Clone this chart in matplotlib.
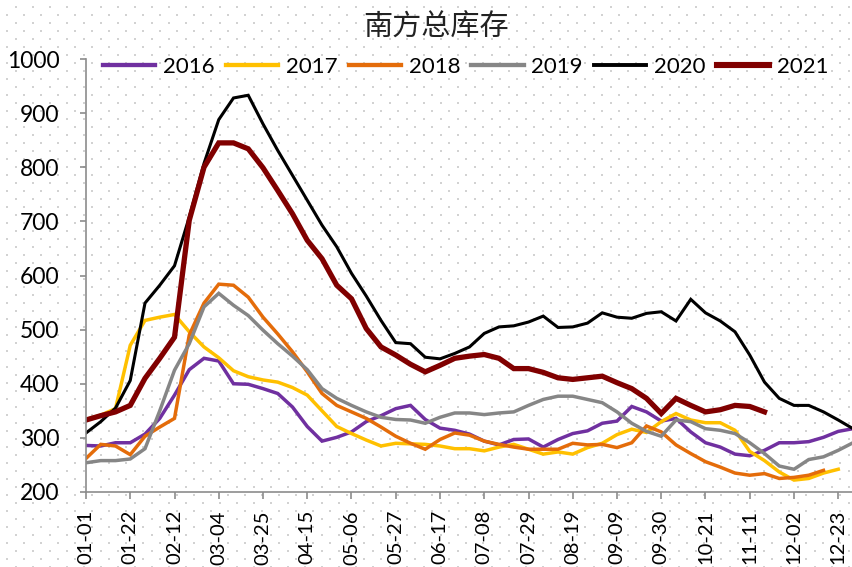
import numpy as np
import matplotlib
matplotlib.use("Agg")
import matplotlib.pyplot as plt

plt.rcParams['font.family'] = ['Lato', 'Noto Sans CJK SC', 'DejaVu Sans']

title = "南方总库存"

# weekly inventory, week 0 = 01-01
inv_2016 = [286, 285, 291, 291, 307, 336, 379, 426, 447, 442,
            400, 399, 391, 382, 357, 321, 294, 301, 311, 330,
            341, 354, 360, 334, 318, 314, 307, 294, 287, 297,
            298, 283, 297, 308, 313, 327, 331, 358, 348, 331,
            336, 311, 291, 283, 270, 267, 277, 291, 291, 293,
            301, 312, 317]
inv_2017 = [334, 342, 354, 471, 517, 523, 528, 496, 468, 448,
            424, 413, 407, 403, 393, 379, 350, 321, 308, 296,
            285, 290, 289, 288, 285, 280, 280, 276, 283, 288,
            279, 270, 274, 270, 282, 290, 306, 316, 310, 330,
            345, 333, 328, 328, 314, 275, 258, 237, 222, 225,
            235, 242]
inv_2018 = [262, 288, 285, 269, 303, 320, 336, 490, 549, 584,
            582, 560, 523, 492, 459, 422, 382, 360, 348, 336,
            320, 303, 290, 279, 297, 309, 305, 294, 288, 283,
            279, 279, 279, 290, 287, 288, 282, 291, 322, 311,
            287, 271, 256, 246, 235, 231, 234, 225, 227, 231,
            240]
inv_2019 = [254, 258, 258, 261, 280, 350, 425, 474, 542, 567,
            545, 526, 499, 474, 451, 426, 391, 373, 360, 348,
            338, 334, 333, 327, 338, 346, 346, 343, 346, 348,
            360, 371, 377, 377, 371, 365, 348, 327, 312, 303,
            333, 330, 317, 314, 308, 291, 271, 248, 242, 260,
            265, 277, 291]
inv_2020 = [309, 330, 355, 406, 549, 582, 618, 708, 807, 888,
            928, 933, 880, 831, 785, 739, 693, 653, 604, 562,
            517, 476, 474, 449, 446, 456, 468, 493, 505, 507,
            514, 525, 504, 505, 512, 531, 523, 521, 530, 533,
            516, 556, 531, 516, 496, 453, 403, 373, 360, 360,
            348, 333, 317]
inv_2021 = [333, 341, 348, 360, 410, 447, 486, 702, 800, 845,
            845, 834, 799, 757, 714, 665, 631, 582, 557, 502,
            468, 453, 436, 422, 434, 447, 451, 454, 447, 428,
            428, 421, 411, 408, 411, 414, 402, 391, 373, 345,
            373, 360, 348, 352, 360, 358, 348]

tick_weeks = list(range(0, 52, 3))
tick_labels = ['01-01', '01-22', '02-12', '03-04', '03-25', '04-15',
               '05-06', '05-27', '06-17', '07-08', '07-29', '08-19',
               '09-09', '09-30', '10-21', '11-11', '12-02', '12-23']

series = [
    ('2016', inv_2016, '#7030A0', 2.5),
    ('2017', inv_2017, '#FFC000', 2.5),
    ('2018', inv_2018, '#E46C0A', 2.5),
    ('2019', inv_2019, '#868686', 2.5),
    ('2020', inv_2020, '#000000', 2.2),
    ('2021', inv_2021, '#800000', 3.8),
]

W, H = 853, 567
fig = plt.figure(figsize=(W / 100, H / 100), dpi=100)

# dotted backdrop over the whole canvas
bg = fig.add_axes([0, 0, 1, 1], zorder=0)
bg.set_xlim(0, W)
bg.set_ylim(H, 0)
bg.axis('off')
rows = np.arange(6.7, H, 8.0)
for k, y in enumerate(rows):
    x0 = 7.3 if k % 2 == 1 else 15.7
    xs = np.arange(x0, W, 17.0)
    bg.scatter(xs, np.full_like(xs, y), s=2.2, marker='s',
               color='#D2D2D2', linewidths=0)

ax = fig.add_axes([86 / W, 1 - 492 / H, 1 - 86 / W, 433 / H], zorder=1)
ax.set_facecolor('none')

for name, vals, color, lw in series:
    ax.plot(np.arange(len(vals)), vals, color=color, lw=lw, label=name,
            solid_joinstyle='miter')

ax.set_xlim(0, 52)
ax.set_ylim(200, 1000)
ax.set_yticks(range(200, 1001, 100))
ax.set_xticks(tick_weeks)
ax.set_xticklabels(tick_labels, rotation=90, fontsize=14.5)

for side in ['top', 'right']:
    ax.spines[side].set_visible(False)
for side in ['left', 'bottom']:
    ax.spines[side].set_color('#8C8C8C')
    ax.spines[side].set_linewidth(1.2)
ax.tick_params(axis='y', direction='out', length=4, width=1.2,
               color='#8C8C8C', labelsize=16.5, pad=15)
ax.tick_params(axis='x', direction='out', length=5, width=1.2,
               color='#8C8C8C', pad=8)

leg = ax.legend(loc='center', bbox_to_anchor=(0.495, 0.981), ncol=6,
                frameon=False, fontsize=16, handlelength=2.35,
                handletextpad=0.35, columnspacing=0.5)
for h in leg.get_lines():
    h.set_linewidth(h.get_linewidth() + 0.6)

fig.text(436 / W, 1 - 28 / H, title, ha='center', va='center',
         fontsize=21, color='#222222', family=['Noto Sans CJK SC'])

fig.savefig('out.png', dpi=100)
